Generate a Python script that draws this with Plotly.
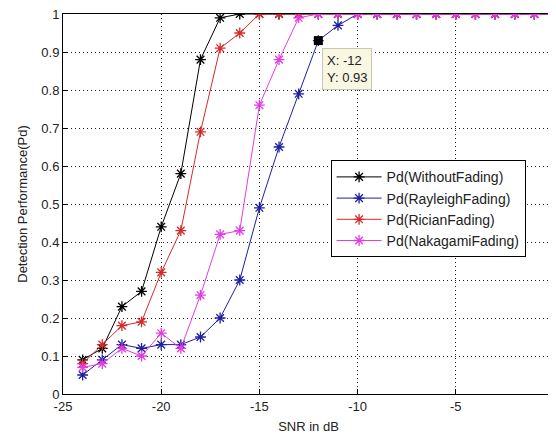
import plotly.graph_objects as go

snr = list(range(-24, 1))
pd_without = [0.09, 0.12, 0.23, 0.27, 0.44, 0.58, 0.88, 0.99, 1.0] + [1.0] * 16
pd_rayleigh = [0.05, 0.09, 0.13, 0.12, 0.13, 0.13, 0.15, 0.20, 0.30, 0.49, 0.65, 0.79, 0.93, 0.97] + [1.0] * 11
pd_rician = [0.08, 0.13, 0.18, 0.19, 0.32, 0.43, 0.69, 0.91, 0.95] + [1.0] * 16
pd_nakagami = [0.07, 0.08, 0.12, 0.10, 0.16, 0.12, 0.26, 0.42, 0.43, 0.76, 0.88, 0.99] + [1.0] * 13

names = ["Pd(WithoutFading)", "Pd(RayleighFading)", "Pd(RicianFading)", "Pd(NakagamiFading)"]
colors = ["#000000", "#1f1fa0", "#d42a2a", "#e23de2"]
series = [pd_without, pd_rayleigh, pd_rician, pd_nakagami]

tip_x = -12
tip_y = 0.93

x_ticks = [-25, -20, -15, -10, -5, 0]
y_ticks = [0, 0.1, 0.2, 0.3, 0.4, 0.5, 0.6, 0.7, 0.8, 0.9, 1]

fig = go.Figure()
for name, col, ys in zip(names, colors, series):
    fig.add_trace(go.Scatter(
        x=snr, y=ys, name=name, mode="lines+markers",
        line=dict(color=col, width=1),
        marker=dict(symbol="asterisk-open", size=9, color=col, line=dict(color=col, width=1.3)),
    ))

fig.add_trace(go.Scatter(
    x=[tip_x], y=[tip_y], mode="markers", showlegend=False,
    marker=dict(symbol="square", size=9, color="black"),
    hoverinfo="skip",
))
fig.add_annotation(
    x=tip_x, y=tip_y, xref="x", yref="y",
    text="X: -12<br>Y: 0.93", showarrow=False,
    xanchor="left", yanchor="top", xshift=4, yshift=-7,
    align="left", font=dict(family="Liberation Sans, Arial", size=13, color="#222"),
    bgcolor="#f7f7e2", bordercolor="#c8c8b0", borderwidth=1, borderpad=4,
)

axis_common = dict(
    showline=True, linecolor="black", linewidth=1, mirror=True,
    ticks="inside", ticklen=5, tickcolor="black",
    showgrid=True, gridcolor="#222", griddash="1px,3px", gridwidth=1,
    zeroline=False, tickfont=dict(size=13, color="#222"), automargin=False,
    ticklabeloverflow="allow",
)

fig.update_layout(
    width=548, height=426,
    margin=dict(l=55, r=2, t=6, b=40, autoexpand=False),
    paper_bgcolor="white", plot_bgcolor="white",
    font=dict(family="Liberation Sans, Arial", size=12, color="#222"),
    xaxis=dict(range=[-25, 0], tickvals=x_ticks, ticktext=[str(v) for v in x_ticks],
               title=dict(text="SNR in dB", standoff=9, font=dict(size=13)), **axis_common),
    yaxis=dict(range=[0, 1], tickvals=y_ticks, ticktext=[("%g" % v) for v in y_ticks],
               title=dict(text="Detection Performance(Pd)", standoff=10, font=dict(size=13)), **axis_common),
    legend=dict(x=0.545, y=0.615, xanchor="left", yanchor="top",
                bgcolor="white", bordercolor="black", borderwidth=1,
                font=dict(size=14, color="#222"), itemwidth=45),
    showlegend=True,
)

fig.write_html("out.html")
